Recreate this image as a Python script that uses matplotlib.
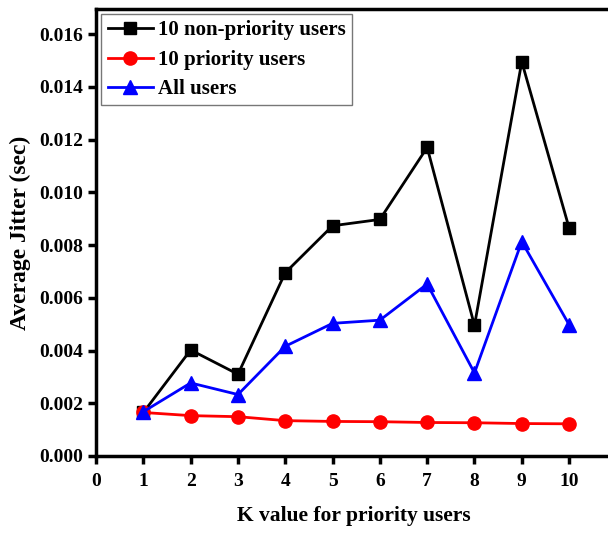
import matplotlib.pyplot as plt

k_values = [1, 2, 3, 4, 5, 6, 7, 8, 9, 10]
jitter_non_priority = [0.00165, 0.00402, 0.00310, 0.00695, 0.00873, 0.00897, 0.01170, 0.00495, 0.01495, 0.00865]
jitter_priority = [0.00165, 0.00153, 0.00149, 0.00134, 0.00131, 0.00130, 0.00127, 0.00126, 0.00123, 0.00122]
jitter_all = [0.00168, 0.00277, 0.00233, 0.00416, 0.00503, 0.00515, 0.00652, 0.00315, 0.00813, 0.00498]

plt.rcParams['font.family'] = 'Liberation Serif'
plt.rcParams['font.weight'] = 'bold'

fig = plt.figure(figsize=(6.08, 5.33), dpi=100)
ax = fig.add_axes([0.158, 0.1445, 0.848, 0.8386])

ax.plot(k_values, jitter_non_priority, color='black', lw=2, marker='s', ms=8.5,
        label='10 non-priority users')
ax.plot(k_values, jitter_priority, color='red', lw=2, marker='o', ms=9.5,
        label='10 priority users')
ax.plot(k_values, jitter_all, color='blue', lw=2, marker='^', ms=10,
        label='All users')

ax.set_xlim(0, 10.9)
ax.set_ylim(0, 0.01695)
ax.set_xticks(range(0, 11))
ax.set_yticks([i * 0.002 for i in range(9)])
ax.set_yticklabels([f'{i * 0.002:.3f}' for i in range(9)])

for s in ax.spines.values():
    s.set_linewidth(2.5)
ax.tick_params(direction='out', width=2.5, length=6, labelsize=14)
ax.tick_params(axis='x', pad=6)
for lbl in ax.get_xticklabels() + ax.get_yticklabels():
    lbl.set_fontweight('bold')

ax.set_xlabel('K value for priority users', fontsize=15.5, fontweight='bold', labelpad=12)
ax.set_ylabel('Average Jitter (sec)', fontsize=17, fontweight='bold', labelpad=6)

leg = ax.legend(loc='upper left', fontsize=15, frameon=True, fancybox=False,
                borderpad=0.3, handlelength=2.2, handletextpad=0.2,
                labelspacing=0.45, borderaxespad=0.25)
leg.get_frame().set_edgecolor('#555555')
leg.get_frame().set_linewidth(1)

fig.savefig('out.png', dpi=100)
